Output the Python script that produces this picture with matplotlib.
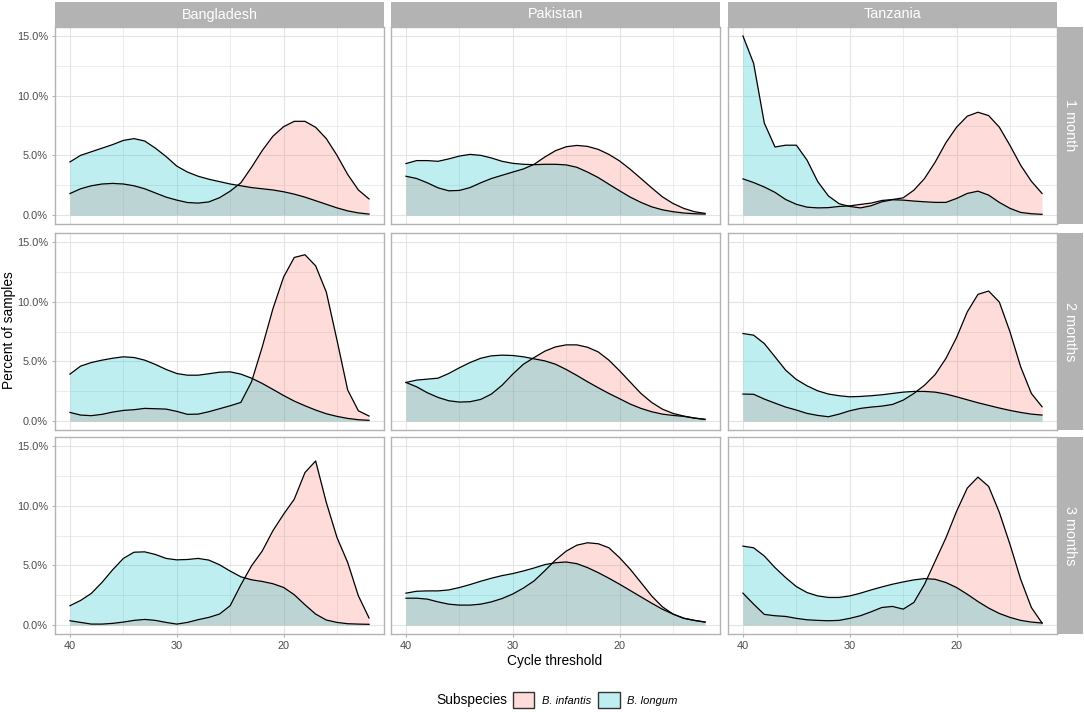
import numpy as np
import matplotlib
matplotlib.use("Agg")
import matplotlib.pyplot as plt
from matplotlib.patches import Patch
from matplotlib.ticker import FuncFormatter

plt.rcParams['font.family'] = ['Liberation Sans', 'DejaVu Sans']

# cycle threshold grid the densities were read at (axis is reversed)
ct = [40, 39, 38, 37, 36, 35, 34, 33, 32, 31, 30, 29, 28, 27, 26, 25, 24,
      23, 22, 21, 20, 19, 18, 17, 16, 15, 14, 13, 12]

countries = ["Bangladesh", "Pakistan", "Tanzania"]
ages = ["1 month", "2 months", "3 months"]
subspecies = ["B. infantis", "B. longum"]

# percent of samples, one row per age (1, 2, 3 months)
infantis_bangladesh = [
    [1.8, 2.2, 2.45, 2.6, 2.65, 2.6, 2.45, 2.2, 1.85, 1.5, 1.25, 1.05, 1.0, 1.1, 1.45, 2.0, 2.7,
     4.0, 5.4, 6.6, 7.4, 7.85, 7.85, 7.35, 6.4, 5.0, 3.4, 2.1, 1.35],
    [0.72, 0.5, 0.45, 0.56, 0.75, 0.89, 0.95, 1.06, 1.03, 1.0, 0.81, 0.56, 0.58, 0.78, 1.03, 1.28, 1.56,
     3.29, 6.2, 9.4, 12.06, 13.7, 13.93, 13.0, 10.8, 6.77, 2.6, 0.86, 0.42],
    [0.36, 0.22, 0.08, 0.08, 0.14, 0.25, 0.39, 0.47, 0.39, 0.22, 0.08, 0.22, 0.45, 0.64, 0.92, 1.62, 3.37,
     4.96, 6.2, 7.9, 9.28, 10.54, 12.77, 13.74, 10.26, 7.33, 5.24, 2.45, 0.59],
]
longum_bangladesh = [
    [4.45, 5.0, 5.3, 5.6, 5.9, 6.25, 6.4, 6.2, 5.6, 4.9, 4.1, 3.6, 3.25, 3.0, 2.8, 2.6, 2.45,
     2.3, 2.2, 2.1, 1.95, 1.75, 1.5, 1.2, 0.9, 0.6, 0.35, 0.18, 0.08],
    [3.93, 4.6, 4.9, 5.1, 5.26, 5.38, 5.32, 5.1, 4.74, 4.32, 3.98, 3.84, 3.84, 3.96, 4.09, 4.12, 3.93,
     3.59, 3.15, 2.65, 2.14, 1.67, 1.28, 0.92, 0.61, 0.39, 0.22, 0.11, 0.06],
    [1.62, 2.06, 2.65, 3.57, 4.63, 5.58, 6.1, 6.13, 5.91, 5.58, 5.46, 5.49, 5.58, 5.44, 5.05, 4.52, 4.04,
     3.79, 3.65, 3.46, 3.15, 2.54, 1.7, 0.92, 0.42, 0.22, 0.11, 0.08, 0.06],
]
infantis_pakistan = [
    [3.25, 3.06, 2.7, 2.28, 2.03, 2.06, 2.3, 2.7, 3.06, 3.33, 3.6, 3.86, 4.25, 4.86, 5.39, 5.72, 5.83,
     5.75, 5.5, 5.08, 4.53, 3.83, 3.06, 2.28, 1.53, 0.97, 0.56, 0.28, 0.14],
    [3.23, 2.87, 2.37, 1.98, 1.7, 1.59, 1.62, 1.81, 2.26, 3.0, 3.93, 4.76, 5.32, 5.85, 6.21, 6.38, 6.38,
     6.18, 5.79, 5.1, 4.21, 3.26, 2.31, 1.56, 1.0, 0.64, 0.42, 0.25, 0.14],
    [2.25, 2.25, 2.17, 1.94, 1.75, 1.67, 1.67, 1.75, 1.94, 2.22, 2.6, 3.1, 3.7, 4.55, 5.45, 6.19, 6.69,
     6.89, 6.81, 6.47, 5.64, 4.67, 3.56, 2.44, 1.53, 0.92, 0.56, 0.39, 0.25],
]
longum_pakistan = [
    [4.31, 4.56, 4.56, 4.5, 4.7, 4.94, 5.08, 5.0, 4.78, 4.5, 4.33, 4.25, 4.22, 4.25, 4.25, 4.2, 4.0,
     3.6, 3.14, 2.58, 2.03, 1.5, 1.06, 0.69, 0.44, 0.28, 0.17, 0.11, 0.08],
    [3.23, 3.43, 3.51, 3.59, 3.98, 4.46, 4.9, 5.26, 5.46, 5.52, 5.49, 5.38, 5.21, 5.04, 4.76, 4.32, 3.82,
     3.29, 2.79, 2.31, 1.87, 1.42, 1.06, 0.78, 0.58, 0.47, 0.39, 0.25, 0.14],
    [2.67, 2.83, 2.86, 2.86, 2.94, 3.14, 3.39, 3.67, 3.92, 4.14, 4.31, 4.53, 4.78, 5.06, 5.22, 5.28, 5.14,
     4.81, 4.39, 3.92, 3.42, 2.89, 2.36, 1.83, 1.33, 0.92, 0.58, 0.39, 0.25],
]
infantis_tanzania = [
    [3.03, 2.72, 2.35, 1.9, 1.3, 0.9, 0.66, 0.6, 0.62, 0.72, 0.77, 0.89, 1.0, 1.22, 1.3, 1.44, 2.08,
     3.06, 4.44, 6.06, 7.36, 8.28, 8.61, 8.33, 7.36, 5.83, 4.17, 2.83, 1.81],
    [2.26, 2.24, 1.84, 1.5, 1.17, 0.92, 0.64, 0.47, 0.36, 0.58, 0.86, 1.06, 1.17, 1.25, 1.39, 1.75, 2.31,
     3.0, 3.9, 5.24, 7.0, 9.14, 10.61, 10.89, 9.97, 7.47, 4.54, 2.31, 1.2],
    [2.67, 1.75, 0.89, 0.78, 0.72, 0.56, 0.44, 0.39, 0.36, 0.39, 0.56, 0.78, 1.11, 1.47, 1.56, 1.33, 1.89,
     3.42, 5.36, 7.3, 9.53, 11.47, 12.39, 11.61, 9.44, 6.75, 3.83, 1.47, 0.17],
]
longum_tanzania = [
    [15.0, 12.7, 7.7, 5.7, 5.85, 5.85, 4.6, 2.8, 1.6, 0.95, 0.72, 0.6, 0.78, 1.11, 1.28, 1.25, 1.17,
     1.11, 1.06, 1.06, 1.39, 1.81, 2.0, 1.67, 1.06, 0.56, 0.22, 0.11, 0.06],
    [7.33, 7.19, 6.49, 5.38, 4.26, 3.48, 2.95, 2.53, 2.26, 2.12, 2.03, 2.06, 2.12, 2.2, 2.31, 2.42, 2.48,
     2.48, 2.42, 2.26, 2.03, 1.78, 1.53, 1.31, 1.09, 0.89, 0.72, 0.58, 0.5],
    [6.61, 6.47, 5.78, 4.81, 3.97, 3.22, 2.72, 2.44, 2.31, 2.31, 2.44, 2.67, 2.94, 3.19, 3.42, 3.61, 3.78,
     3.89, 3.83, 3.56, 3.14, 2.58, 1.97, 1.42, 0.97, 0.64, 0.39, 0.25, 0.17],
]

infantis = [infantis_bangladesh, infantis_pakistan, infantis_tanzania]
longum = [longum_bangladesh, longum_pakistan, longum_tanzania]

pink = "#F8766D"
teal = "#00BFC4"
alpha = 0.25
strip_grey = "#B3B3B3"
grid_grey = "#E4E4E4"

W, H = 1084, 712
fig = plt.figure(figsize=(W / 100, H / 100), dpi=100)

col_left = [55, 391, 728]
row_top = [27, 233, 437]
pw, ph = 329, 197
strip = 25


def frac(x, y, w, h):
    return [x / W, 1 - (y + h) / H, w / W, h / H]


pct = FuncFormatter(lambda v, p: "%.1f%%" % v)

for r in range(3):
    for c in range(3):
        ax = fig.add_axes(frac(col_left[c], row_top[r], pw, ph))
        ax.set_axisbelow(True)
        ax.fill_between(ct, 0, infantis[c][r], color=pink, alpha=alpha, linewidth=0)
        ax.plot(ct, infantis[c][r], color="black", lw=0.9)
        ax.fill_between(ct, 0, longum[c][r], color=teal, alpha=alpha, linewidth=0)
        ax.plot(ct, longum[c][r], color="black", lw=0.9)

        ax.set_xlim(41.4, 10.6)
        ax.set_ylim(-0.75, 15.75)
        ax.set_xticks([40, 30, 20])
        ax.set_xticks([35, 25, 15], minor=True)
        ax.set_yticks([0, 5, 10, 15])
        ax.set_yticks([2.5, 7.5, 12.5], minor=True)
        ax.yaxis.set_major_formatter(pct)
        ax.grid(which="major", color=grid_grey, lw=0.8)
        ax.grid(which="minor", color=grid_grey, lw=0.5)
        ax.tick_params(which="major", length=2.5, width=0.8, color=strip_grey,
                       labelcolor="#4D4D4D", labelsize=7.9, pad=2.5)
        ax.tick_params(which="minor", length=0)
        for s in ax.spines.values():
            s.set_color(strip_grey)
            s.set_linewidth(1.0)
        if c > 0:
            ax.tick_params(axis="y", which="major", length=0, labelleft=False)
        if r < 2:
            ax.tick_params(axis="x", which="major", length=0, labelbottom=False)

        if r == 0:
            sa = fig.add_axes(frac(col_left[c], row_top[0] - strip, pw, strip))
            sa.set_facecolor(strip_grey)
            sa.set_xticks([])
            sa.set_yticks([])
            for s in sa.spines.values():
                s.set_visible(False)
            sa.text(0.5, 0.5, countries[c], color="white", fontsize=10.4,
                    ha="center", va="center", transform=sa.transAxes)
    sa = fig.add_axes(frac(col_left[2] + pw + 1, row_top[r], strip, ph))
    sa.set_facecolor(strip_grey)
    sa.set_xticks([])
    sa.set_yticks([])
    for s in sa.spines.values():
        s.set_visible(False)
    sa.text(0.5, 0.5, ages[r], color="white", fontsize=10.4, rotation=-90,
            ha="center", va="center", transform=sa.transAxes)

fig.text(555 / W, 1 - 661 / H, "Cycle threshold", fontsize=9.9, ha="center", va="center")
fig.text(9 / W, 1 - 330 / H, "Percent of samples", fontsize=9.9, rotation=90,
         ha="center", va="center")

# legend
fig.text(436 / W, 1 - 700 / H, "Subspecies", fontsize=9.9, ha="left", va="center")
handles = [Patch(facecolor=matplotlib.colors.to_rgba(pink, alpha), edgecolor="#333333", lw=1.0),
           Patch(facecolor=matplotlib.colors.to_rgba(teal, alpha), edgecolor="#333333", lw=1.0)]
fig.legend(handles, subspecies, loc="center left", bbox_to_anchor=(513 / W, 1 - 700 / H),
           ncol=2, frameon=False, borderpad=0, borderaxespad=0,
           handlelength=1.9, handleheight=1.9, handletextpad=0.7, columnspacing=0.66,
           prop={"family": "Liberation Sans", "style": "italic", "size": 8})

fig.savefig("out.png", dpi=100)
